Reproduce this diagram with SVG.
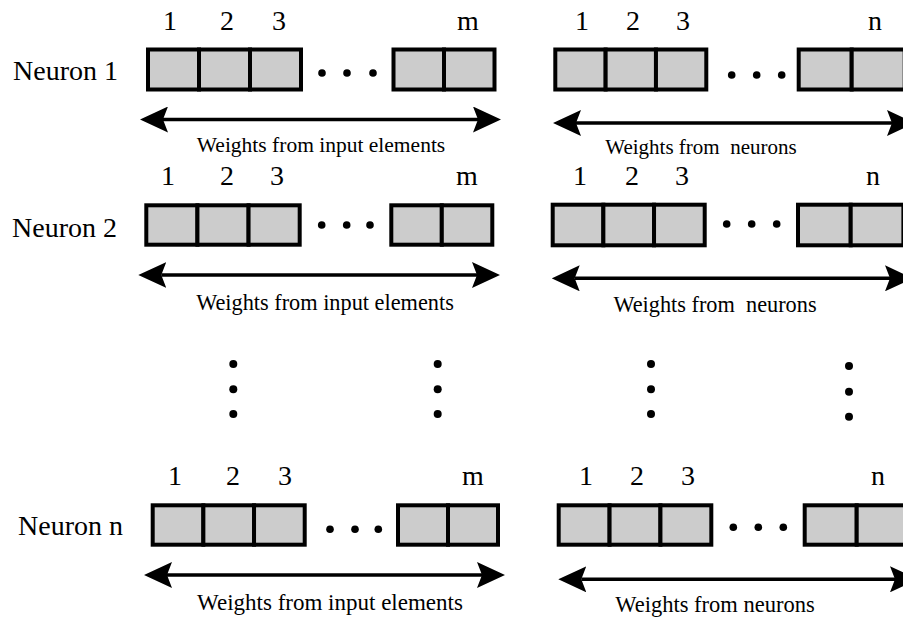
<svg xmlns="http://www.w3.org/2000/svg" width="903" height="619" viewBox="0 0 903 619">
  <style>
    .cell { fill: #cccccc; stroke: #000; stroke-width: 4; }
    .lbl { font-family: "Liberation Serif", "Times New Roman", serif; font-size: 28px; fill: #000; }
    .idx { font-family: "Liberation Serif", "Times New Roman", serif; font-size: 28px; fill: #000; text-anchor: middle; }
    .cap { font-family: "Liberation Serif", "Times New Roman", serif; font-size: 22px; fill: #000; text-anchor: middle; }
    .dot { fill: #000; }
    .arrow { stroke: #000; stroke-width: 3.5; fill: none; marker-start: url(#head); marker-end: url(#head); }
  </style>
  <defs>
    <marker id="head" viewBox="0 0 28 26" markerWidth="28" markerHeight="26" refX="5" refY="13" orient="auto-start-reverse" markerUnits="userSpaceOnUse">
      <path d="M0,0 L28,13 L0,26 L5,13 Z" fill="#000"/>
    </marker>
  </defs>

  <!-- Neuron 1 -->
  <g id="neuron1">
    <text class="lbl" x="13" y="80">Neuron 1</text>
    <g id="n1-input">
      <text class="idx" x="170" y="30">1</text>
      <text class="idx" x="227" y="30">2</text>
      <text class="idx" x="279" y="30">3</text>
      <text class="idx" x="468" y="30">m</text>
      <rect class="cell" x="148" y="49.5" width="51" height="40"/>
      <rect class="cell" x="199" y="49.5" width="51" height="40"/>
      <rect class="cell" x="250" y="49.5" width="51" height="40"/>
      <circle class="dot" cx="322" cy="73" r="3.8"/>
      <circle class="dot" cx="347" cy="73" r="3.8"/>
      <circle class="dot" cx="373" cy="73" r="3.8"/>
      <rect class="cell" x="393.5" y="49.5" width="50.5" height="40"/>
      <rect class="cell" x="444" y="49.5" width="50.5" height="40"/>
      <text class="cap" x="321" y="152" style="font-size:21.5px">Weights from input elements</text>
    </g>
    <g id="n1-recurrent">
      <text class="idx" x="582" y="30">1</text>
      <text class="idx" x="633" y="30">2</text>
      <text class="idx" x="683" y="30">3</text>
      <text class="idx" x="875" y="30">n</text>
      <rect class="cell" x="555.3" y="49.5" width="50.33" height="40"/>
      <rect class="cell" x="605.63" y="49.5" width="50.33" height="40"/>
      <rect class="cell" x="655.96" y="49.5" width="50.33" height="40"/>
      <circle class="dot" cx="731.7" cy="75" r="3.8"/>
      <circle class="dot" cx="756.7" cy="75" r="3.8"/>
      <circle class="dot" cx="781.7" cy="75" r="3.8"/>
      <rect class="cell" x="798.7" y="49.5" width="53" height="40"/>
      <rect class="cell" x="851.7" y="49.5" width="53" height="40"/>
      <text class="cap" x="701" y="154" style="font-size:21px" xml:space="preserve">Weights from  neurons</text>
    </g>
  </g>

  <!-- Neuron 2 -->
  <g id="neuron2">
    <text class="lbl" x="12" y="237">Neuron 2</text>
    <g id="n2-input">
      <text class="idx" x="168" y="185">1</text>
      <text class="idx" x="227" y="185">2</text>
      <text class="idx" x="277" y="185">3</text>
      <text class="idx" x="467" y="185">m</text>
      <rect class="cell" x="146.3" y="205.3" width="51.13" height="39.4"/>
      <rect class="cell" x="197.43" y="205.3" width="51.13" height="39.4"/>
      <rect class="cell" x="248.56" y="205.3" width="51.13" height="39.4"/>
      <circle class="dot" cx="321.7" cy="225" r="3.8"/>
      <circle class="dot" cx="346.7" cy="225" r="3.8"/>
      <circle class="dot" cx="370" cy="225" r="3.8"/>
      <rect class="cell" x="391.3" y="205.3" width="50.5" height="39.4"/>
      <rect class="cell" x="441.8" y="205.3" width="50.5" height="39.4"/>
      <text class="cap" x="325" y="310" style="font-size:22.3px">Weights from input elements</text>
    </g>
    <g id="n2-recurrent">
      <text class="idx" x="580" y="185">1</text>
      <text class="idx" x="632" y="185">2</text>
      <text class="idx" x="682" y="185">3</text>
      <text class="idx" x="873" y="185">n</text>
      <rect class="cell" x="552.7" y="204.7" width="50.67" height="40.6"/>
      <rect class="cell" x="603.37" y="204.7" width="50.67" height="40.6"/>
      <rect class="cell" x="654.04" y="204.7" width="50.67" height="40.6"/>
      <circle class="dot" cx="726.7" cy="224" r="3.8"/>
      <circle class="dot" cx="751.7" cy="224" r="3.8"/>
      <circle class="dot" cx="776.7" cy="224" r="3.8"/>
      <rect class="cell" x="798" y="204.7" width="52.7" height="40.6"/>
      <rect class="cell" x="850.7" y="204.7" width="52.7" height="40.6"/>
      <text class="cap" x="715" y="312" style="font-size:22.3px" xml:space="preserve">Weights from  neurons</text>
    </g>
  </g>

  <!-- vertical ellipses between Neuron 2 and Neuron n -->
  <g id="ellipsis">
    <circle class="dot" cx="233.3" cy="364" r="4"/>
    <circle class="dot" cx="233.3" cy="389.3" r="4"/>
    <circle class="dot" cx="233.3" cy="414" r="4"/>
    <circle class="dot" cx="437.7" cy="364" r="4"/>
    <circle class="dot" cx="437.7" cy="389.3" r="4"/>
    <circle class="dot" cx="437.7" cy="414" r="4"/>
    <circle class="dot" cx="651" cy="364" r="4"/>
    <circle class="dot" cx="651" cy="389.3" r="4"/>
    <circle class="dot" cx="651" cy="414" r="4"/>
    <circle class="dot" cx="849" cy="366" r="4"/>
    <circle class="dot" cx="849" cy="391.7" r="4"/>
    <circle class="dot" cx="849" cy="416.7" r="4"/>
  </g>

  <!-- Neuron n -->
  <g id="neuronN">
    <text class="lbl" x="18" y="535">Neuron n</text>
    <g id="nN-input">
      <text class="idx" x="175" y="485">1</text>
      <text class="idx" x="233" y="485">2</text>
      <text class="idx" x="285" y="485">3</text>
      <text class="idx" x="473" y="485">m</text>
      <rect class="cell" x="152.7" y="505.3" width="50.67" height="39.4"/>
      <rect class="cell" x="203.37" y="505.3" width="50.67" height="39.4"/>
      <rect class="cell" x="254.04" y="505.3" width="50.67" height="39.4"/>
      <circle class="dot" cx="330" cy="529.3" r="3.8"/>
      <circle class="dot" cx="355" cy="529.3" r="3.8"/>
      <circle class="dot" cx="378.3" cy="529.3" r="3.8"/>
      <rect class="cell" x="398" y="505.3" width="50" height="39.4"/>
      <rect class="cell" x="448" y="505.3" width="50" height="39.4"/>
      <text class="cap" x="330" y="610" style="font-size:23px">Weights from input elements</text>
    </g>
    <g id="nN-recurrent">
      <text class="idx" x="586" y="485">1</text>
      <text class="idx" x="637" y="485">2</text>
      <text class="idx" x="688" y="485">3</text>
      <text class="idx" x="878" y="485">n</text>
      <rect class="cell" x="558.7" y="505.3" width="50.87" height="39.4"/>
      <rect class="cell" x="609.57" y="505.3" width="50.87" height="39.4"/>
      <rect class="cell" x="660.44" y="505.3" width="50.87" height="39.4"/>
      <circle class="dot" cx="733.3" cy="527.3" r="3.8"/>
      <circle class="dot" cx="758.3" cy="527.3" r="3.8"/>
      <circle class="dot" cx="783.3" cy="527.3" r="3.8"/>
      <rect class="cell" x="804.7" y="505.3" width="52" height="39.4"/>
      <rect class="cell" x="856.7" y="505.3" width="52" height="39.4"/>
      <text class="cap" x="715" y="612" style="font-size:22.5px">Weights from neurons</text>
    </g>
  </g>

  <!-- span arrows under each weight vector -->
  <g id="connectors">
    <line class="arrow" x1="163" y1="119.5" x2="478" y2="119.5"/>
    <line class="arrow" x1="576" y1="123" x2="892" y2="123"/>
    <line class="arrow" x1="161.3" y1="275" x2="477" y2="275"/>
    <line class="arrow" x1="574.7" y1="278.3" x2="890" y2="278.3"/>
    <line class="arrow" x1="167" y1="575" x2="482" y2="575"/>
    <line class="arrow" x1="581.3" y1="579.3" x2="895" y2="579.3"/>
  </g>
</svg>
